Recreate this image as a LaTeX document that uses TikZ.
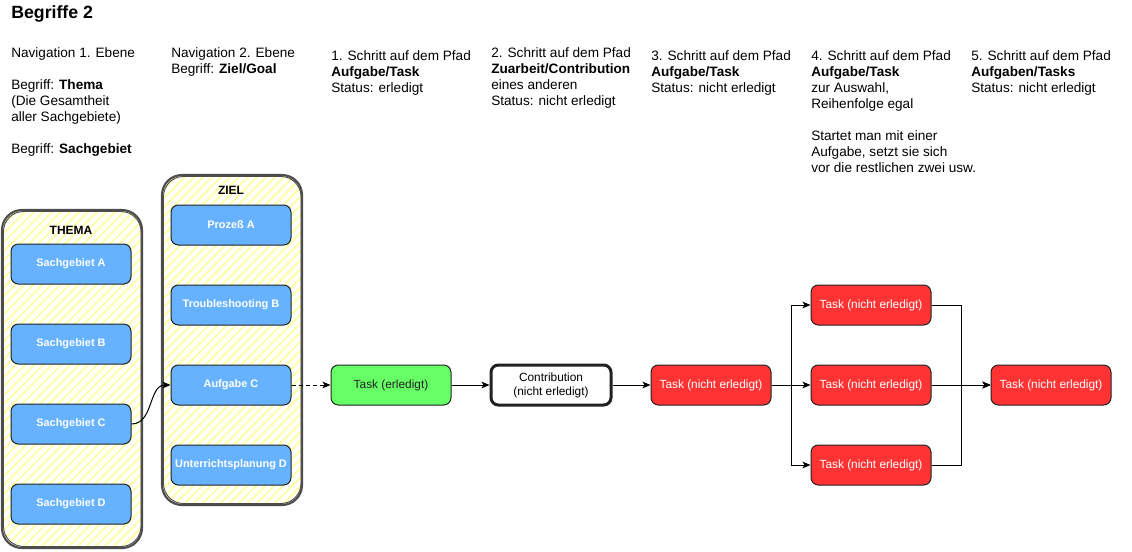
\documentclass[tikz,border=0pt]{standalone}
\usepackage{fontspec}
\setmainfont{Liberation Sans}
\usetikzlibrary{arrows.meta,calc}
\definecolor{bluefill}{HTML}{66B2FF}
\definecolor{greenfill}{HTML}{66FF66}
\definecolor{redfill}{HTML}{FF3333}
\definecolor{boxline}{HTML}{222222}
\definecolor{contline}{HTML}{4D4D4D}
\definecolor{hatchcol}{HTML}{FFFFA8}
\begin{document}
\begin{tikzpicture}[x=0.75pt,y=-0.75pt,
  txt/.style={anchor=north west,inner sep=0pt,align=left,font=\fontsize{10.2}{12}\selectfont},
  bbox/.style={draw=boxline,line width=0.75pt,rounded corners=5.5pt,minimum width=90pt,minimum height=30pt,inner sep=0pt,font=\fontsize{8.9}{10}\selectfont},
  bluebox/.style={bbox,fill=bluefill,text=white,font=\bfseries\fontsize{8.2}{10}\selectfont},
  redbox/.style={bbox,fill=redfill,text=white},
  greenbox/.style={bbox,fill=greenfill,text=boxline},
  contribbox/.style={bbox,fill=white,line width=2.25pt,align=center,font=\fontsize{8.9}{10.5}\selectfont},
  conn/.style={line width=0.75pt,-{Stealth[length=6pt,width=5pt,inset=1.5pt]}},
  conttitle/.style={font=\bfseries\fontsize{9}{10}\selectfont,inner sep=0pt},
  container/.style={draw=contline,line width=1.6pt,rounded corners=15pt}
]
\useasboundingbox (0,0) rectangle (1132,551);

% Title
\node[anchor=north west,inner sep=0pt,font=\bfseries\fontsize{13.3}{15}\selectfont] (title) at (11,5) {Begriffe 2};

% Header texts
\node[txt] (h1) at (11,47) {Navigation 1. Ebene\\[12pt]Begriff: \textbf{Thema}\\(Die Gesamtheit\\aller Sachgebiete)\\[12pt]Begriff: \textbf{Sachgebiet}};
\node[txt] (h2) at (171,47) {Navigation 2. Ebene\\Begriff: \textbf{Ziel/Goal}};
\node[txt] (h3) at (331,50) {1. Schritt auf dem Pfad\\\textbf{Aufgabe/Task}\\Status: erledigt};
\node[txt] (h4) at (491,47) {2. Schritt auf dem Pfad\\\textbf{Zuarbeit/Contribution}\\eines anderen\\Status: nicht erledigt};
\node[txt] (h5) at (651,50) {3. Schritt auf dem Pfad\\\textbf{Aufgabe/Task}\\Status: nicht erledigt};
\node[txt] (h6) at (811,50) {4. Schritt auf dem Pfad\\\textbf{Aufgabe/Task}\\zur Auswahl,\\Reihenfolge egal\\[12pt]Startet man mit einer\\Aufgabe, setzt sie sich\\vor die restlichen zwei usw.};
\node[txt] (h7) at (971,50) {5. Schritt auf dem Pfad\\\textbf{Aufgaben/Tasks}\\Status: nicht erledigt};

% Containers with hatch
\begin{scope}
  \clip[rounded corners=15pt] (2,210) rectangle (142,548);
  \fill[white] (2,210) rectangle (142,548);
  \foreach \k in {0,9,...,500} {
    \draw[hatchcol,line width=1.5pt] (2+\k-340,548) -- (2+\k,208);
  }
\end{scope}
\draw[container] (2,210) rectangle (142,548);
\draw[container,line width=0.7pt] (3.5,211.5) rectangle (141,546.5);
\node[conttitle] (thematitle) at (71,230) {THEMA};

\begin{scope}
  \clip[rounded corners=15pt] (162,175) rectangle (302,505);
  \foreach \k in {0,9,...,500} {
    \draw[hatchcol,line width=1.5pt] (162+\k-330,505) -- (162+\k,173);
  }
\end{scope}
\draw[container] (162,175) rectangle (302,505);
\draw[container,line width=0.7pt] (163.5,176.5) rectangle (301,503.5);
\node[conttitle] (ziletitle) at (231,190) {ZIEL};

% Blue boxes
\node[bluebox] (sa) at (71,264) {Sachgebiet A};
\node[bluebox] (sb) at (71,344) {Sachgebiet B};
\node[bluebox] (sc) at (71,424) {Sachgebiet C};
\node[bluebox] (sd) at (71,504) {Sachgebiet D};

\node[bluebox] (za) at (231,225) {Prozeß A};
\node[bluebox] (zb) at (231,305) {Troubleshooting B};
\node[bluebox] (zc) at (231,385) {Aufgabe C};
\node[bluebox] (zd) at (231,465) {Unterrichtsplanung D};

% Path boxes
\node[greenbox] (t1) at (391,385) {Task (erledigt)};
\node[contribbox] (co) at (551,385) {Contribution\\(nicht erledigt)};
\node[redbox] (t3) at (711,385) {Task (nicht erledigt)};
\node[redbox] (t4a) at (871,305) {Task (nicht erledigt)};
\node[redbox] (t4b) at (871,385) {Task (nicht erledigt)};
\node[redbox] (t4c) at (871,465) {Task (nicht erledigt)};
\node[redbox] (t5) at (1051,385) {Task (nicht erledigt)};

% Connectors
\draw[conn] (sc.east) .. controls ($(sc.east)+(22,0)$) and ($(zc.west)+(-22,0)$) .. (zc.west);
\draw[conn,dash pattern=on 3pt off 2.25pt] (zc.east) -- (t1.west);
\draw[conn] (t1.east) -- (co.west);
\draw[conn] (co.east) -- (t3.west);
\draw[conn] (t3.east) -- ++(20,0) |- (t4a.west);
\draw[conn] (t3.east) -- (t4b.west);
\draw[conn] (t3.east) -- ++(20,0) |- (t4c.west);
\draw[conn] (t4a.east) -- ++(30,0) |- (t5.west);
\draw[conn] (t4b.east) -- (t5.west);
\draw[conn] (t4c.east) -- ++(30,0) |- (t5.west);
\end{tikzpicture}
\end{document}
